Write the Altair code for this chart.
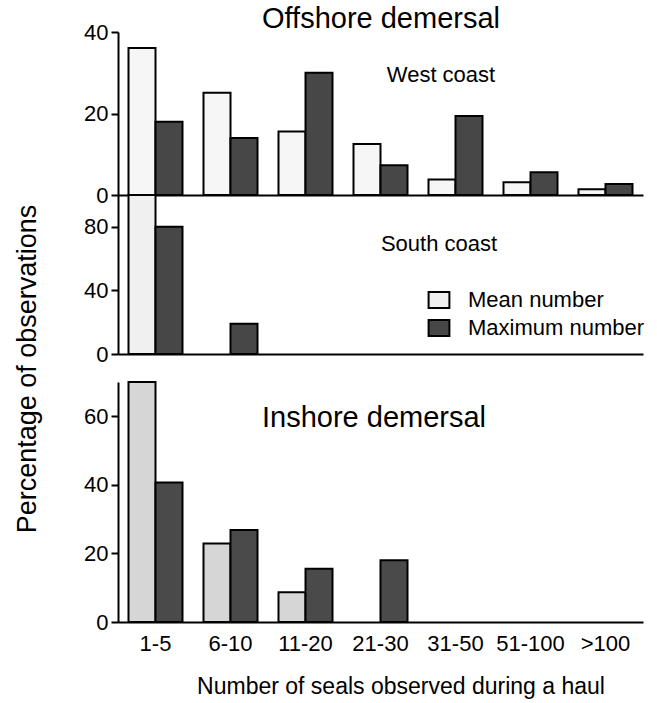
import altair as alt
import pandas as pd

categories = ["1-5", "6-10", "11-20", "21-30", "31-50", "51-100", ">100"]
series = ["Mean number", "Maximum number"]

west_mean = [36.1, 25.1, 15.6, 12.5, 3.8, 3.1, 1.4]
west_max = [18.0, 14.0, 30.0, 7.3, 19.4, 5.6, 2.7]
south_mean = [100.0, 0, 0, 0, 0, 0, 0]
south_max = [80.0, 19.0, 0, 0, 0, 0, 0]
inshore_mean = [70.0, 22.9, 8.7, 0, 0, 0, 0]
inshore_max = [40.7, 26.8, 15.5, 18.0, 0, 0, 0]

FONT = "Liberation Sans"
W = 525


def frame(mean, mx):
    rows = []
    for c, m, x in zip(categories, mean, mx):
        if m > 0:
            rows.append({"cat": c, "series": series[0], "value": m})
        if x > 0:
            rows.append({"cat": c, "series": series[1], "value": x})
    return pd.DataFrame(rows)


def label_layer(text, x, y, size, angle=0):
    return alt.Chart(pd.DataFrame({"t": [text]})).mark_text(
        font=FONT, fontSize=size, color="black", angle=angle,
        align="center", baseline="middle"
    ).encode(text="t:N", x=alt.value(x), y=alt.value(y))


def panel(df, height, domain, ticks, mean_fill, max_fill, show_x=False, legend=None):
    x = alt.X(
        "cat:N", sort=categories,
        scale=alt.Scale(domain=categories, paddingInner=0.28, paddingOuter=0.14),
        axis=alt.Axis(title=None, labels=show_x, ticks=False, tickSize=0,
                      domain=True, domainColor="black", domainWidth=2,
                      labelFontSize=22, labelFont=FONT, labelColor="black",
                      labelAngle=0, labelPadding=11, grid=False),
    )
    y = alt.Y(
        "value:Q",
        scale=alt.Scale(domain=domain, nice=False, zero=True),
        axis=alt.Axis(values=ticks, title=None, grid=False, domainColor="black",
                      domainWidth=2, tickColor="black", tickWidth=2, tickSize=7,
                      labelFontSize=22, labelFont=FONT, labelColor="black",
                      labelPadding=3),
    )
    bars = alt.Chart(df).mark_bar(stroke="black", strokeWidth=2).encode(
        x=x,
        xOffset=alt.XOffset("series:N", sort=series,
                            scale=alt.Scale(domain=series, paddingInner=0, paddingOuter=0)),
        y=y,
        fill=alt.Fill("series:N", scale=alt.Scale(domain=series, range=[mean_fill, max_fill]),
                      legend=legend),
    )
    return bars.properties(width=W, height=height)


legend = alt.Legend(
    orient="none", legendX=310, legendY=94, title=None,
    symbolType="M-1.3,-1L1.3,-1L1.3,1L-1.3,1Z", symbolSize=256,
    symbolStrokeColor="black", symbolStrokeWidth=2, symbolOpacity=1,
    labelFontSize=22, labelFont=FONT, labelColor="black", labelOffset=18,
    labelLimit=400, rowPadding=4, padding=0,
)

top = alt.layer(
    panel(frame(west_mean, west_max), 163, [0, 40], [0, 20, 40], "#f6f6f6", "#474747"),
    label_layer("Offshore demersal", 263, -13, 29),
    label_layer("West coast", 323, 43, 22),
)

mid = alt.layer(
    panel(frame(south_mean, south_max), 159, [0, 100], [0, 40, 80], "#f0f0f0", "#474747",
          legend=legend),
    label_layer("South coast", 321, 49, 22),
    label_layer("Percentage of observations", -90, 174, 27, angle=270),
)

spacer = alt.Chart(pd.DataFrame({"t": [""]})).mark_text().encode(
    text="t:N", x=alt.value(0), y=alt.value(0)
).properties(width=W, height=28)

bottom = alt.layer(
    panel(frame(inshore_mean, inshore_max), 240, [0, 70], [0, 20, 40, 60], "#d6d6d6",
          "#4a4a4a", show_x=True),
    label_layer("Inshore demersal", 256, 36, 29),
    label_layer("Number of seals observed during a haul", 283, 305, 23),
)

chart = alt.vconcat(top, mid, spacer, bottom, spacing=0, bounds="flush").resolve_scale(
    fill="independent"
).properties(
    padding={"left": 14, "top": 5, "right": 5, "bottom": 5},
    background="white",
).configure_view(stroke=None)

chart.save("out.html", embed_options={"renderer": "svg", "actions": False})
